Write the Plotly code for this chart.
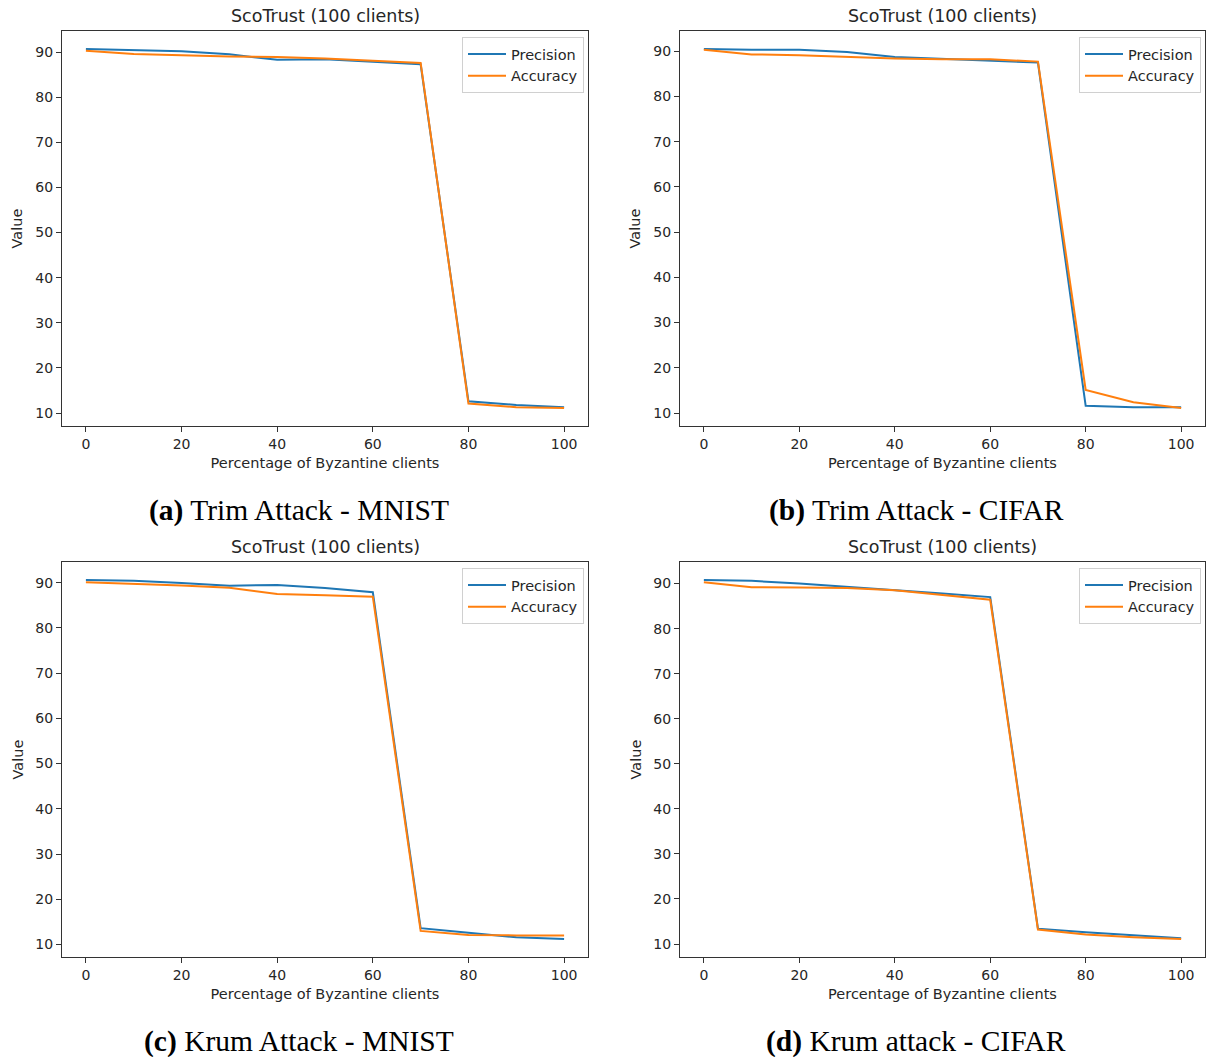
import plotly.graph_objects as go

x_pct = [0, 10, 20, 30, 40, 50, 60, 70, 80, 90, 100]

# (a) Trim Attack - MNIST
a_precision = [90.7, 90.5, 90.2, 89.5, 88.3, 88.4, 87.8, 87.3, 12.6, 11.8, 11.3]
a_accuracy = [90.3, 89.6, 89.3, 89.0, 88.9, 88.6, 88.1, 87.6, 12.1, 11.3, 11.1]
# (b) Trim Attack - CIFAR
b_precision = [90.5, 90.3, 90.3, 89.8, 88.7, 88.3, 88.0, 87.5, 11.6, 11.3, 11.3]
b_accuracy = [90.3, 89.3, 89.1, 88.7, 88.4, 88.2, 88.2, 87.7, 15.1, 12.4, 11.1]
# (c) Krum Attack - MNIST
c_precision = [90.6, 90.4, 89.9, 89.3, 89.5, 88.8, 87.9, 13.6, 12.6, 11.6, 11.2]
c_accuracy = [90.1, 89.8, 89.4, 88.9, 87.5, 87.2, 86.9, 13.0, 12.1, 12.0, 12.0]
# (d) Krum attack - CIFAR
d_precision = [90.8, 90.6, 90.0, 89.3, 88.6, 87.8, 87.0, 13.4, 12.6, 11.9, 11.3]
d_accuracy = [90.3, 89.2, 89.1, 89.0, 88.5, 87.4, 86.4, 13.2, 12.1, 11.5, 11.1]

panel_title = "ScoTrust (100 clients)"
x_title = "Percentage of Byzantine clients"
y_title = "Value"
captions = ["<b>(a)</b> Trim Attack - MNIST", "<b>(b)</b> Trim Attack - CIFAR",
            "<b>(c)</b> Krum Attack - MNIST", "<b>(d)</b> Krum attack - CIFAR"]
y_ticks = [10, 20, 30, 40, 50, 60, 70, 80, 90]
x_ticks = [0, 20, 40, 60, 80, 100]

W, H = 1207, 1057
BLUE = "#1f77b4"
ORANGE = "#ff7f0e"
TXT = "#262626"

# panel boxes in pixels: (left, right, top, bottom)
boxes = [(62, 588, 31, 426), (680, 1205, 31, 426),
         (62, 588, 562, 957), (680, 1205, 562, 957)]
caption_cx = [299, 916, 299, 916]

series = [(a_precision, a_accuracy), (b_precision, b_accuracy),
          (c_precision, c_accuracy), (d_precision, d_accuracy)]

fig = go.Figure()
layout = dict(width=W, height=H, margin=dict(l=0, r=0, t=0, b=0),
              plot_bgcolor="white", paper_bgcolor="white",
              font=dict(family="DejaVu Sans", color=TXT, size=14))
annotations = []

for i, ((prec, acc), (l, r, t, b)) in enumerate(zip(series, boxes)):
    n = "" if i == 0 else str(i + 1)
    xa, ya = "x" + n, "y" + n
    leg = "legend" if i == 0 else "legend" + str(i + 1)
    fig.add_trace(go.Scatter(x=x_pct, y=prec, mode="lines", name="Precision",
                             line=dict(color=BLUE, width=2), xaxis=xa, yaxis=ya, legend=leg))
    fig.add_trace(go.Scatter(x=x_pct, y=acc, mode="lines", name="Accuracy",
                             line=dict(color=ORANGE, width=2), xaxis=xa, yaxis=ya, legend=leg))
    allv = prec + acc
    lo, hi = min(allv), max(allv)
    span = hi - lo
    ax_common = dict(showline=True, mirror=True, linecolor="#333333", linewidth=1,
                     ticks="outside", ticklen=5, tickcolor="#333333", showgrid=False,
                     zeroline=False, tickfont=dict(size=14, color=TXT))
    layout["xaxis" + n] = dict(domain=[l / W, r / W], anchor=ya, range=[-5, 105],
                               tickvals=x_ticks,
                               title=dict(text=x_title, font=dict(size=14.5, color=TXT), standoff=7),
                               **ax_common)
    layout["yaxis" + n] = dict(domain=[1 - b / H, 1 - t / H], anchor=xa,
                               range=[lo - 0.05 * span, hi + 0.05 * span],
                               tickvals=y_ticks, **ax_common)
    layout[leg] = dict(x=(r - 4) / W, y=1 - (t + 6) / H, xanchor="right", yanchor="top",
                       bgcolor="white", bordercolor="#d0d0d0", borderwidth=1,
                       font=dict(size=14.5, color=TXT), tracegroupgap=0,
                       itemwidth=38)
    # panel title
    annotations.append(dict(text=panel_title, x=(l + r) / 2 / W, y=1 - (t - 15) / H,
                            xref="paper", yref="paper", showarrow=False,
                            font=dict(size=17.5, color=TXT), xanchor="center", yanchor="middle"))
    # y-axis title
    annotations.append(dict(text=y_title, x=(l - 45) / W, y=1 - (t + b) / 2 / H,
                            xref="paper", yref="paper", showarrow=False, textangle=-90,
                            font=dict(size=14.5, color=TXT), xanchor="center", yanchor="middle"))
    # caption
    annotations.append(dict(text=captions[i], x=caption_cx[i] / W, y=1 - (b + 84) / H,
                            xref="paper", yref="paper", showarrow=False,
                            font=dict(size=29.5, color="black", family="Liberation Serif"),
                            xanchor="center", yanchor="middle"))

layout["annotations"] = annotations
fig.update_layout(**layout)
fig.write_html("out.html", config={"displayModeBar": False},
               post_script="document.body.style.margin='0';document.body.style.overflow='hidden';")
